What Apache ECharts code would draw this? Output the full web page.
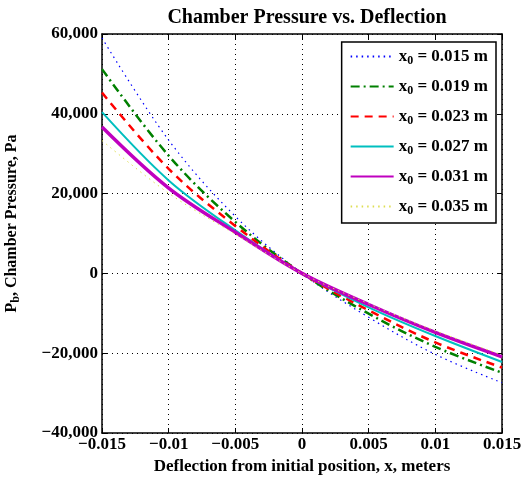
<!DOCTYPE html>
<html>
<head>
<meta charset="utf-8">
<script src="https://cdn.jsdelivr.net/npm/echarts@6/dist/echarts.min.js"></script>
<style>
  html, body { margin: 0; padding: 0; background: #fff; }
  #chart { width: 524px; height: 483px; }
</style>
</head>
<body>
<div id="chart"></div>
<script>
// deflection positions (m)
const xs = [-0.015, -0.01, -0.005, 0, 0.005, 0.01, 0.015];

// chamber pressure (Pa), one list per initial gap x0
const p015 = [59000, 33400, 14300, 0, -11000, -20300, -27400];
const p019 = [51200, 29500, 12900, 0, -10100, -18400, -24900];
const p023 = [45300, 26200, 11900, 0, -9250, -17300, -23600];
const p027 = [40400, 23300, 10800, 0, -8500, -15700, -22200];
const p031 = [36700, 21400, 10300, 0, -7800, -14800, -20900];
const p035 = [33300, 20100, 9800, 0, -7600, -14400, -20400];

const names = ["0.015", "0.019", "0.023", "0.027", "0.031", "0.035"];

const font = "Liberation Serif";

function pairs(ys) {
    return xs.map(function (x, i) {
        return [x, ys[i]];
    });
}

function minus(s) {
    return s.replace("-", "\u2212");
}

let chart = echarts.init(document.getElementById("chart"));

let seriesList = [
    { data: p015, color: "#0000ff", width: 1.2, type: [1.5, 4] },
    { data: p019, color: "#008000", width: 2.5, type: [9, 4, 2, 4] },
    { data: p023, color: "#ff0000", width: 2.5, type: [8, 6] },
    { data: p027, color: "#00bfbf", width: 2, type: "solid" },
    { data: p031, color: "#bf00bf", width: 3.5, type: "solid" },
    { data: p035, color: "#dede50", width: 1, type: [1.5, 4] },
].map(function (s, i) {
    return {
        name: names[i],
        type: "line",
        data: pairs(s.data),
        smooth: 0.35,
        symbol: "none",
        color: s.color,
        lineStyle: { color: s.color, width: s.width, type: s.type },
    };
});

let bold = { fontFamily: font, fontWeight: "bold", color: "#000" };

chart.setOption({
    animation: false,
    title: {
        text: "Chamber Pressure vs. Deflection",
        left: 302,
        top: 3,
        textAlign: "center",
        textStyle: Object.assign({ fontSize: 20 }, bold),
    },
    grid: { left: 102, right: 22, top: 34, bottom: 50, outerBoundsMode: "none" },
    legend: {
        orient: "vertical",
        right: 28,
        top: 42,
        itemWidth: 43,
        itemHeight: 14,
        itemGap: 11,
        padding: [6, 8, 6, 8],
        borderColor: "#000",
        borderWidth: 1.5,
        backgroundColor: "#fff",
        itemStyle: { opacity: 0 },
        formatter: function (name) {
            return "{a|x}{s|0}{a| = " + name + " m}";
        },
        textStyle: {
            rich: {
                a: Object.assign({ fontSize: 17 }, bold),
                s: Object.assign({ fontSize: 12, verticalAlign: "bottom", padding: [9, 0, 0, 0] }, bold),
            },
        },
    },
    xAxis: [
        {
            type: "value",
            min: -0.015,
            max: 0.015,
            interval: 0.005,
            name: "Deflection from initial position, x, meters",
            nameLocation: "middle",
            nameGap: 24,
            nameTextStyle: Object.assign({ fontSize: 17 }, bold),
            axisLine: { onZero: false, lineStyle: { color: "#000", width: 1.5 } },
            axisTick: { inside: true, length: 5, lineStyle: { color: "#000" } },
            axisLabel: Object.assign({
                margin: 3,
                fontSize: 17,
                formatter: function (v) {
                    return minus(String(+v.toFixed(3)));
                },
            }, bold),
            splitLine: { show: true, lineStyle: { color: "#000", type: [1, 4], width: 1 } },
        },
        {
            type: "value",
            position: "top",
            min: -0.015,
            max: 0.015,
            interval: 0.005,
            axisLine: { onZero: false, lineStyle: { color: "#000", width: 1.5 } },
            axisTick: { inside: true, length: 5, lineStyle: { color: "#000" } },
            axisLabel: { show: false },
            splitLine: { show: false },
        },
    ],
    yAxis: [
        {
            type: "value",
            min: -40000,
            max: 60000,
            interval: 20000,
            name: "{a|P}{s|b}{a|, Chamber Pressure, Pa}",
            nameLocation: "middle",
            nameGap: 80,
            nameTextStyle: {
                padding: [0, 0, 0, 20],
                rich: {
                    a: Object.assign({ fontSize: 16 }, bold),
                    s: Object.assign({ fontSize: 12, verticalAlign: "bottom", padding: [9, 0, 0, 0] }, bold),
                },
            },
            axisLine: { show: true, onZero: false, lineStyle: { color: "#000", width: 1.5 } },
            axisTick: { show: true, inside: true, length: 5, lineStyle: { color: "#000" } },
            axisLabel: Object.assign({
                margin: 4,
                fontSize: 17,
                formatter: function (v) {
                    return minus(v.toLocaleString("en-US"));
                },
            }, bold),
            splitLine: { show: true, lineStyle: { color: "#000", type: [1, 4], width: 1 } },
        },
        {
            type: "value",
            position: "right",
            min: -40000,
            max: 60000,
            interval: 20000,
            axisLine: { show: true, onZero: false, lineStyle: { color: "#000", width: 1.5 } },
            axisTick: { show: true, inside: true, length: 5, lineStyle: { color: "#000" } },
            axisLabel: { show: false },
            splitLine: { show: false },
        },
    ],
    series: seriesList,
});

window.addEventListener("resize", function () {
    chart.resize();
});
</script>
</body>
</html>
